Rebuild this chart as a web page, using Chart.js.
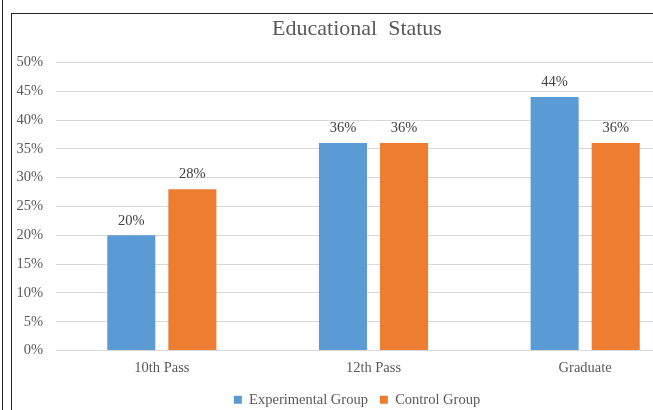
<!DOCTYPE html>
<html>
<head>
<meta charset="utf-8">
<style>
  html, body { margin: 0; padding: 0; background: #fff; overflow: hidden; width: 653px; height: 410px; }
  .edge { position: absolute; left: 2px; top: 0; width: 1px; height: 410px; background: #222; }
  .frame { position: absolute; left: 11px; top: 13px; width: 720px; height: 420px;
           border-left: 1.5px solid #222; border-top: 1.5px solid #222; box-sizing: border-box; }
  canvas { position: absolute; left: 13px; top: 15px; }
</style>
<script src="https://cdn.jsdelivr.net/npm/chart.js@4"></script>
</head>
<body>
<div class="edge"></div>
<div class="frame"></div>
<canvas id="c" width="688" height="406"></canvas>
<script>
const categories = ['10th Pass', '12th Pass', 'Graduate'];
const experimentalGroup = [20, 36, 44];
const controlGroup = [28, 36, 36];
const yTicks = [0, 5, 10, 15, 20, 25, 30, 35, 40, 45, 50];

const SERIF = "'Liberation Serif', 'Times New Roman', serif";
const TEXT = '#595959';

// Percent labels above each bar
const barValueLabels = {
  id: 'barValueLabels',
  afterDatasetsDraw(chart) {
    const ctx = chart.ctx;
    ctx.save();
    ctx.font = '14.5px ' + SERIF;
    ctx.fillStyle = '#404040';
    ctx.textAlign = 'center';
    ctx.textBaseline = 'middle';
    chart.data.datasets.forEach((ds, i) => {
      chart.getDatasetMeta(i).data.forEach((bar, j) => {
        ctx.fillText(ds.data[j] + '%', bar.x, bar.y - 14.5);
      });
    });
    ctx.restore();
  }
};

new Chart(document.getElementById('c'), {
  type: 'bar',
  data: {
    labels: categories,
    datasets: [
      { label: 'Experimental Group', data: experimentalGroup, backgroundColor: '#5B9BD5',
        categoryPercentage: 0.577, barPercentage: 0.787 },
      { label: 'Control Group', data: controlGroup, backgroundColor: '#ED7D31',
        categoryPercentage: 0.577, barPercentage: 0.787 }
    ]
  },
  options: {
    responsive: false,
    animation: false,
    layout: { padding: { left: 0, right: 0, top: 0, bottom: 4 } },
    plugins: {
      title: {
        display: true,
        text: 'Educational  Status',
        color: TEXT,
        font: { family: SERIF, size: 22, weight: 'normal' },
        padding: { top: 1, bottom: 20 }
      },
      legend: {
        position: 'bottom',
        labels: {
          color: TEXT,
          font: { family: SERIF, size: 14.5 },
          boxWidth: 8, boxHeight: 8, padding: 12
        }
      },
      tooltip: { enabled: false }
    },
    scales: {
      x: {
        grid: { display: false },
        border: { display: true, color: '#d9d9d9', width: 1 },
        ticks: { color: TEXT, font: { family: SERIF, size: 14.5 }, padding: 1 },
        afterFit(s) { s.height = 30; }
      },
      y: {
        min: 0, max: 50,
        afterBuildTicks(s) { s.ticks = yTicks.map(v => ({ value: v })); },
        grid: { color: '#d9d9d9', drawTicks: false },
        border: { display: false },
        ticks: { color: TEXT, font: { family: SERIF, size: 14.5 }, padding: 13,
                 callback: v => v + '%' },
        afterFit(s) { s.width = 43; }
      },
      gap: {
        position: 'right',
        display: true,
        grid: { display: false },
        border: { display: false },
        ticks: { display: false },
        afterFit(s) { s.width = 10; }
      }
    }
  },
  plugins: [barValueLabels]
});
</script>
</body>
</html>
